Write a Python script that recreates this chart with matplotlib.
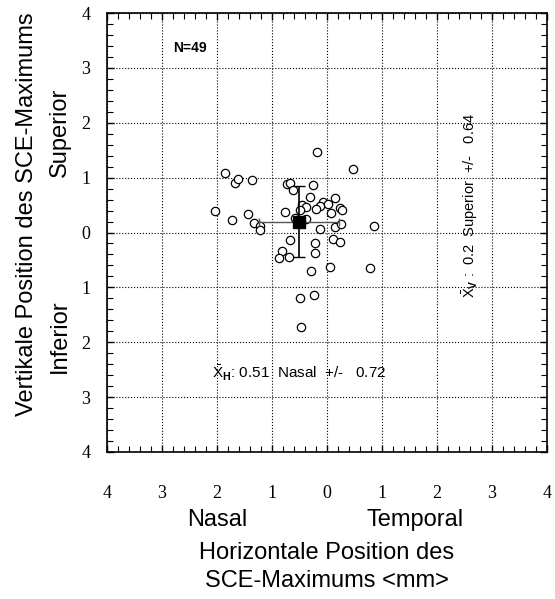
import matplotlib
matplotlib.use("Agg")
import matplotlib.pyplot as plt
from matplotlib.ticker import MultipleLocator

plt.rcParams["font.family"] = ["Liberation Sans", "DejaVu Sans"]
plt.rcParams["mathtext.fontset"] = "custom"
plt.rcParams["mathtext.rm"] = "Liberation Sans"
plt.rcParams["mathtext.it"] = "Liberation Sans"
plt.rcParams["mathtext.bf"] = "Liberation Sans:bold"

# SCE maxima, mm (negative x = nasal, negative y = inferior)
pos_x = [-0.19, 0.48, -1.85, -1.68, -1.62, -1.37, -0.72, -0.68, -0.25, -0.62,
         -0.31, 0.15, -0.45, -0.38, -0.08, -0.12, 0.02, -0.20, 0.23, 0.28,
         0.08, -0.50, -0.77, -2.03, -1.43, -1.73, -1.32, -1.21, -1.22, -0.38,
         -0.58, -0.12, 0.15, 0.26, 0.86, 0.11, 0.24, -0.67, -0.22, -0.21,
         -0.82, -0.88, -0.69, 0.05, 0.79, -0.30, -0.24, -0.49, -0.48]
pos_y = [1.46, 1.16, 1.09, 0.91, 0.97, 0.95, 0.89, 0.90, 0.87, 0.77,
         0.64, 0.63, 0.51, 0.46, 0.56, 0.48, 0.52, 0.43, 0.45, 0.41,
         0.35, 0.41, 0.37, 0.39, 0.34, 0.23, 0.18, 0.11, 0.05, 0.25,
         0.26, 0.07, 0.10, 0.15, 0.11, -0.11, -0.17, -0.14, -0.20, -0.37,
         -0.33, -0.46, -0.44, -0.63, -0.64, -0.70, -1.14, -1.20, -1.73]

mean_x, sd_x = -0.51, 0.72
mean_y, sd_y = 0.2, 0.64

ticks = list(range(-4, 5))
tick_labels = [str(abs(t)) for t in ticks]

fig = plt.figure(figsize=(5.55, 5.99), dpi=100)
ax = fig.add_axes([107 / 555, 1 - 452 / 599, 440 / 555, 439 / 599])

ax.plot(pos_x, pos_y, "o", ms=6, mfc="white", mec="black", mew=0.9, zorder=3)
ax.errorbar(mean_x, mean_y, xerr=sd_x, fmt="none", ecolor="#555555",
            elinewidth=1.0, capsize=3, zorder=4)
ax.errorbar(mean_x, mean_y, yerr=sd_y, fmt="none", ecolor="black",
            elinewidth=1.2, capsize=4, zorder=4)
ax.plot(mean_x, mean_y, "s", ms=8, color="black", zorder=5)

ax.set_xlim(-4, 4)
ax.set_ylim(-4, 4)
ax.set_xticks(ticks)
ax.set_yticks(ticks)
ax.set_xticklabels(tick_labels, family="Liberation Serif", fontsize=13)
ax.set_yticklabels(tick_labels, family="Liberation Serif", fontsize=13)
ax.xaxis.set_minor_locator(MultipleLocator(0.2))
ax.yaxis.set_minor_locator(MultipleLocator(0.2))
ax.tick_params(which="both", direction="in", top=True, right=True, color="black")
ax.tick_params(which="major", length=5, width=1)
ax.tick_params(which="minor", length=4, width=0.8)
ax.tick_params(axis="x", which="major", pad=24)
ax.tick_params(axis="y", which="major", pad=12)
ax.grid(True, which="major", linestyle=":", color="black", linewidth=0.8)
for s in ax.spines.values():
    s.set_linewidth(1.2)

ax.text(-2.8, 3.36, "N=49", fontsize=10, fontweight="bold", va="center")
ax.text(-2.09, -2.56, r"$\bar{\mathrm{X}}_{\mathbf{H}}$: 0.51  Nasal  +/-   0.72",
        fontsize=11, va="center")
ax.text(2.6, 0.5, r"$\bar{\mathrm{X}}_{\mathbf{V}}$ :  0.2  Superior  +/-   0.64",
        fontsize=10.5, rotation=90, ha="center", va="center")

fig.text(27 / 555, 1 - 214 / 599, "Vertikale Position des SCE-Maximums",
         rotation=90, fontsize=17, ha="center", va="center")
fig.text(60 / 555, 1 - 132 / 599, "Superior", rotation=90, fontsize=17,
         ha="center", va="center")
fig.text(60 / 555, 1 - 336 / 599, "Inferior", rotation=90, fontsize=17,
         ha="center", va="center")
fig.text(217 / 555, 1 - 520 / 599, "Nasal", fontsize=17, ha="center", va="center")
fig.text(415 / 555, 1 - 520 / 599, "Temporal", fontsize=17, ha="center", va="center")
fig.text(327 / 555, 1 - 553 / 599, "Horizontale Position des", fontsize=17,
         ha="center", va="center")
fig.text(327 / 555, 1 - 581 / 599, "SCE-Maximums <mm>", fontsize=17,
         ha="center", va="center")

fig.savefig("out.png", dpi=100)
